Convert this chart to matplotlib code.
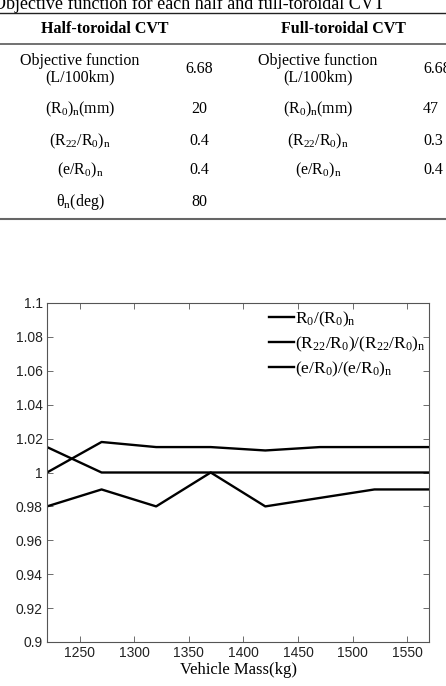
import numpy as np
import matplotlib.pyplot as plt
from matplotlib.lines import Line2D

plt.rcParams['mathtext.fontset'] = 'custom'
plt.rcParams['mathtext.rm'] = 'Liberation Serif'
plt.rcParams['mathtext.it'] = 'Liberation Serif:italic'

# Table data
half_labels = ['Objective function\n(L/100km)', r'$\mathrm{(R_0)_n(mm)}$',
               r'$\mathrm{(R_{22}/R_0)_n}$', r'$\mathrm{(e/R_0)_n}$', r'$\mathrm{\theta_n(deg)}$']
half_values = ['6.68', '20', '0.4', '0.4', '80']
full_labels = ['Objective function\n(L/100km)', r'$\mathrm{(R_0)_n(mm)}$',
               r'$\mathrm{(R_{22}/R_0)_n}$', r'$\mathrm{(e/R_0)_n}$', '']
full_values = ['6.68', '47', '0.3', '0.4', '']

# Chart data
mass = [1220, 1270, 1320, 1370, 1420, 1470, 1520, 1570]
r0_ratio = [1.0, 1.018, 1.015, 1.015, 1.013, 1.015, 1.015, 1.015]
r22_ratio = [1.015, 1.0, 1.0, 1.0, 1.0, 1.0, 1.0, 1.0]
e_ratio = [0.98, 0.99, 0.98, 1.0, 0.98, 0.985, 0.99, 0.99]
series_labels = [r'$\mathrm{R_0/(R_0)_n}$',
                 r'$\mathrm{(R_{22}/R_0)/(R_{22}/R_0)_n}$',
                 r'$\mathrm{(e/R_0)/(e/R_0)_n}$']

W, H = 446, 686
fig = plt.figure(figsize=(W / 100, H / 100), dpi=100)

def fx(px):
    return px / W

def fy(py):
    return 1 - py / H

serif = 'Liberation Serif'

# table caption (cut at top)
fig.text(fx(-7), fy(9), 'Objective function for each half and full-toroidal CVT',
         family=serif, fontsize=13, va='baseline', ha='left')

# table rules
fig.add_artist(Line2D([0, 1], [fy(13), fy(13)], color='#222222', lw=1.0))
fig.add_artist(Line2D([0, 1], [fy(43.5), fy(43.5)], color='#666666', lw=1.3))
fig.add_artist(Line2D([0, 1], [fy(219.5), fy(219.5)], color='#666666', lw=1.5))

fig.text(fx(105), fy(29), 'Half-toroidal CVT', family=serif, fontsize=11.5,
         weight='bold', ha='center', va='center')
fig.text(fx(343), fy(29), 'Full-toroidal CVT', family=serif, fontsize=11.5,
         weight='bold', ha='center', va='center')

row_y = [69, 109, 141, 170, 202]
for i, y in enumerate(row_y):
    fig.text(fx(80), fy(y), half_labels[i], family=serif, fontsize=11.5,
             ha='center', va='center', linespacing=1.0)
    fig.text(fx(199), fy(y), half_values[i], family=serif, fontsize=11.5,
             ha='center', va='center')
    if full_labels[i]:
        fig.text(fx(318), fy(y), full_labels[i], family=serif, fontsize=11.5,
                 ha='center', va='center', linespacing=1.0)
        fig.text(fx(423), fy(y), full_values[i], family=serif, fontsize=11.5,
                 ha='left', va='center')

# chart
ax = fig.add_axes([fx(47), fy(642), fx(429) - fx(47), fy(303) - fy(642)])
for s, lab in zip([r0_ratio, r22_ratio, e_ratio], series_labels):
    ax.plot(mass, s, color='black', lw=1.7, label=lab)

ax.set_xlim(1220, 1570)
ax.set_ylim(0.9, 1.1)
ax.set_xticks(np.arange(1250, 1551, 50))
ax.set_yticks(np.arange(0.9, 1.1001, 0.02))
ax.set_yticklabels(['0.9', '0.92', '0.94', '0.96', '0.98', '1', '1.02',
                    '1.04', '1.06', '1.08', '1.1'])
ax.tick_params(direction='in', top=True, right=True, length=4, width=0.6,
               color='#555555', labelsize=10, pad=3, labelcolor='#222222')
for lbl in ax.get_xticklabels() + ax.get_yticklabels():
    lbl.set_family('Liberation Sans')
for sp in ax.spines.values():
    sp.set_color('#555555')
    sp.set_linewidth(0.8)

ax.set_xlabel('Vehicle Mass(kg)', family=serif, fontsize=12, labelpad=1)

ax.legend(loc='upper left', bbox_to_anchor=(fx(259 - 47) / (fx(429) - fx(47)), 1.012),
          frameon=False, fontsize=12.5, handlelength=1.4, handletextpad=0.05,
          labelspacing=0.3, borderaxespad=0.2)

fig.savefig('out.png', dpi=100)
